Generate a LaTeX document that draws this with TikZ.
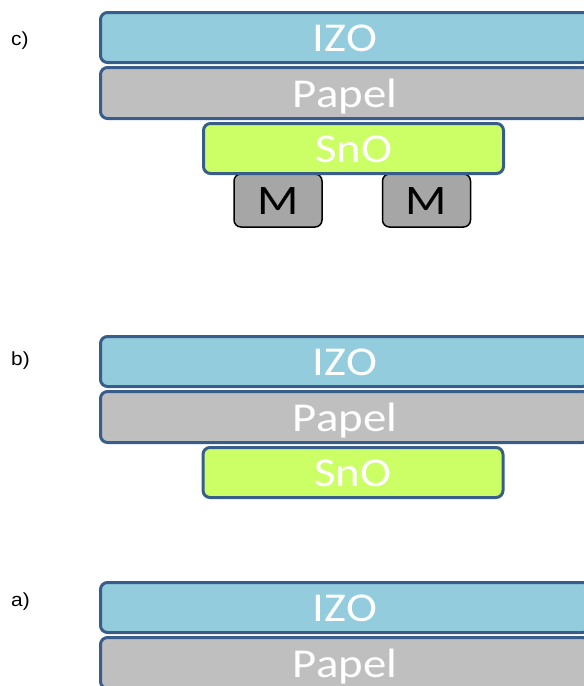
\documentclass[tikz,border=0pt]{standalone}
\usepackage{fontspec}
\setmainfont{Carlito}
\newfontfamily\lblfont{Liberation Sans}
\definecolor{izoc}{RGB}{147,205,221}
\definecolor{papc}{RGB}{191,191,191}
\definecolor{snoc}{RGB}{204,255,102}
\definecolor{mc}{RGB}{166,166,166}
\definecolor{edgec}{RGB}{56,93,138}
\newcommand{\wide}[2]{\scalebox{#1}[1]{#2}}
\begin{document}
\begin{tikzpicture}[x=1pt,y=-1pt,
  layer/.style={draw=edgec, line width=3pt, rounded corners=7pt, text=white,
    font=\fontsize{41}{41}\selectfont, inner sep=0pt, text height=28pt, text depth=0pt},
  izo/.style={layer, fill=izoc, minimum width=489pt, minimum height=50pt},
  pap/.style={layer, fill=papc, minimum width=489pt, minimum height=51pt},
  sno/.style={layer, fill=snoc, minimum width=300pt, minimum height=50pt},
  metal/.style={draw=black, line width=1.5pt, rounded corners=7pt, fill=mc, text=black,
    font=\fontsize{42}{42}\selectfont, inner sep=0pt, text height=28pt, text depth=0pt,
    minimum width=88pt, minimum height=53pt},
  lbl/.style={font=\lblfont\fontsize{19}{19}\selectfont, anchor=west, inner sep=0pt}
]
\useasboundingbox (0,0) rectangle (584,686);
% c)
\node[lbl] (lc) at (11,41) {\wide{1.1}{c)}};
\node[metal] (cm1) at (278,200.5) {\wide{1.15}{M}};
\node[metal] (cm2) at (426.5,200.5) {\wide{1.15}{M}};
\node[sno] (csno) at (353.5,148.5) {\wide{1.14}{SnO}};
\node[pap] (cpap) at (345,93) {\wide{1.14}{Papel}};
\node[izo] (cizo) at (345,37.5) {\wide{1.14}{IZO}};
% b)
\node[lbl] (lb) at (11,361) {\wide{1.1}{b)}};
\node[sno] (bsno) at (353,472.5) {\wide{1.14}{SnO}};
\node[pap] (bpap) at (345,417) {\wide{1.14}{Papel}};
\node[izo] (bizo) at (345,361.5) {\wide{1.14}{IZO}};
% a)
\node[lbl] (la) at (11,602) {\wide{1.1}{a)}};
\node[pap] (apap) at (345,663) {\wide{1.14}{Papel}};
\node[izo] (aizo) at (345,607.5) {\wide{1.14}{IZO}};
\end{tikzpicture}
\end{document}
